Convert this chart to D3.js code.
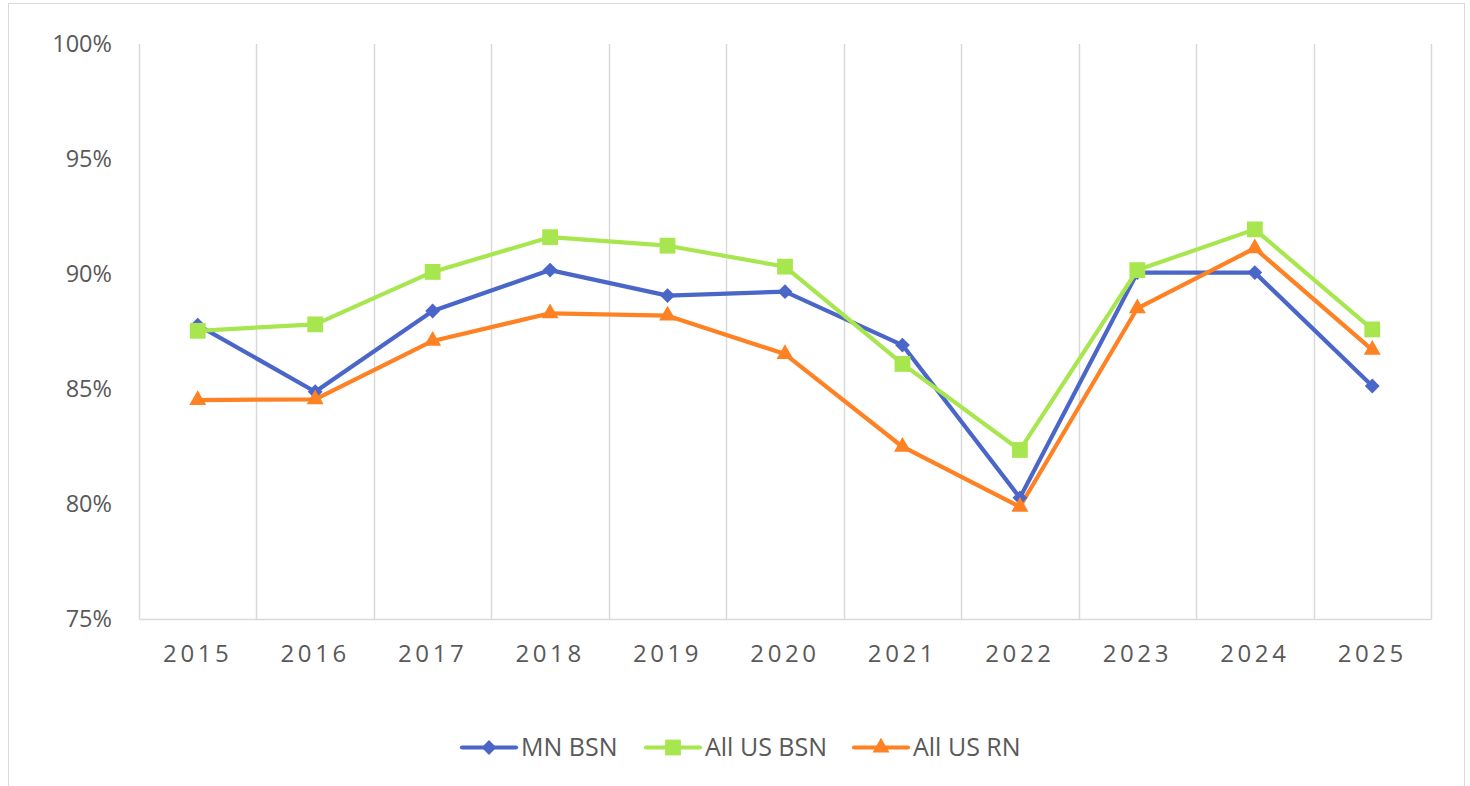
<!DOCTYPE html>
<html><head><meta charset="utf-8">
<script src="https://cdn.jsdelivr.net/npm/d3@7"></script>
<style>body{margin:0;background:#fff;} svg{display:block;}</style>
</head><body>
<svg id="chart" width="1470" height="786"></svg>
<script>
const years = ["2015","2016","2017","2018","2019","2020","2021","2022","2023","2024","2025"];
const mnBSN    = [0.8778,0.8488,0.8839,0.9017,0.8906,0.8923,0.8691,0.8027,0.9006,0.9006,0.8513];
const allUsBSN = [0.8753,0.8781,0.9009,0.9160,0.9123,0.9032,0.8609,0.8235,0.9017,0.9194,0.8759];
const allUsRN  = [0.8452,0.8455,0.8709,0.8829,0.8819,0.8652,0.8249,0.7988,0.8851,0.9112,0.8670];
const yTicks = [0.75,0.80,0.85,0.90,0.95,1.00];
const seriesNames = ["MN BSN","All US BSN","All US RN"];
const seriesColors = ["#4a66c8","#a8e64f","#fe8124"];
const seriesShapes = [d3.symbolDiamond2, d3.symbolSquare, d3.symbolTriangle];
const seriesSizes = [140, 250, 125];

const series = seriesNames.map((n,i)=>({name:n,color:seriesColors[i],shape:seriesShapes[i],size:seriesSizes[i],values:[mnBSN,allUsBSN,allUsRN][i]}));

const svg = d3.select("#chart");
const font = "'Open Sans','Noto Sans',sans-serif";
const textColor = "#595959";

// outer border
svg.append("rect").attr("x",8.5).attr("y",3.5).attr("width",1456).attr("height",800)
  .attr("fill","none").attr("stroke","#d9d9d9").attr("stroke-width",1);

const x = d3.scaleBand().domain(years).range([139,1431]).padding(0);
const y = d3.scaleLinear().domain([0.75,1]).range([619,44]);
const cx = d => x(d)+x.bandwidth()/2;

// vertical gridlines at category boundaries
const edges = years.map(d=>x(d)).concat([x(years[years.length-1])+x.bandwidth()]);
svg.append("g").selectAll("line").data(edges).join("line")
  .attr("x1",d=>Math.round(d)+0.5).attr("x2",d=>Math.round(d)+0.5)
  .attr("y1",y(1)).attr("y2",y(0.75))
  .attr("stroke","#d9d9d9").attr("stroke-width",1.5);

// bottom axis
const xAxis = svg.append("g").attr("transform",`translate(0,${y(0.75)})`)
  .call(d3.axisBottom(x).tickSize(0).tickPadding(26));
xAxis.select(".domain").attr("stroke","#d9d9d9").attr("stroke-width",1.5);
xAxis.selectAll("text").attr("font-family",font).attr("font-size",24)
  .attr("fill",textColor).attr("letter-spacing","3.6px").attr("dy","0.71em");

// y axis labels
const yAxis = svg.append("g").attr("transform",`translate(112,0)`)
  .call(d3.axisLeft(y).tickValues(yTicks).tickFormat(d3.format(".0%")).tickSize(0).tickPadding(0));
yAxis.select(".domain").remove();
yAxis.selectAll("text").attr("font-family",font).attr("font-size",23.5).attr("fill",textColor);

// lines
const line = d3.line().x((d,i)=>cx(years[i])).y(d=>y(d));
series.forEach(s=>{
  svg.append("path").datum(s.values).attr("d",line)
    .attr("fill","none").attr("stroke",s.color).attr("stroke-width",4.2)
    .attr("stroke-linejoin","round").attr("stroke-linecap","round");
});
series.forEach(s=>{
  const sym = d3.symbol().type(s.shape).size(s.size);
  svg.append("g").selectAll("path").data(s.values).join("path")
    .attr("transform",(d,i)=>`translate(${cx(years[i])},${y(d)})`)
    .attr("d",sym).attr("fill",s.color);
});

// legend
const legendX = [462,646,854];
const legendY = 747.5;
series.forEach((s,i)=>{
  const g = svg.append("g").attr("transform",`translate(${legendX[i]},${legendY})`);
  g.append("line").attr("x1",0).attr("x2",54).attr("y1",0).attr("y2",0)
    .attr("stroke",s.color).attr("stroke-width",4.2).attr("stroke-linecap","round");
  g.append("path").attr("transform","translate(27,0)")
    .attr("d",d3.symbol().type(s.shape).size(s.size)).attr("fill",s.color);
  g.append("text").attr("x",59).attr("y",0).attr("dy","0.35em")
    .attr("font-family",font).attr("font-size",25).attr("fill",textColor).text(s.name);
});
</script>
</body></html>
